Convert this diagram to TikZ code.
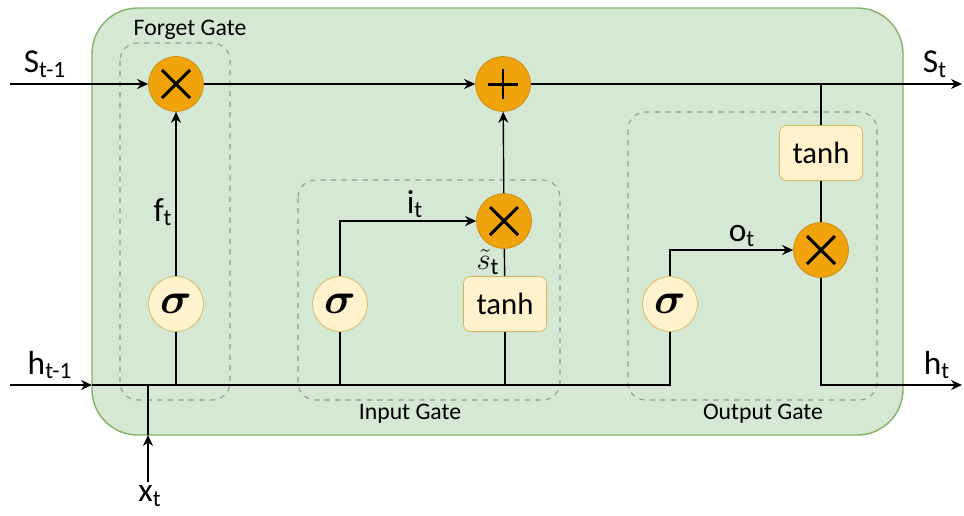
\documentclass[tikz,border=0pt]{standalone}
\usepackage{fontspec}
\setmainfont{Carlito}
\usepackage{amsmath}
\usepackage{tikz}
\usetikzlibrary{arrows.meta,positioning,calc}
\definecolor{cellgreen}{HTML}{D5E8D4}
\definecolor{celledge}{HTML}{82B366}
\definecolor{opfill}{HTML}{F0A30A}
\definecolor{opedge}{HTML}{C98A14}
\definecolor{actfill}{HTML}{FFF2CC}
\definecolor{actedge}{HTML}{D6B656}
\newcommand{\lsub}[2]{#1\textsubscript{#2}}

\begin{document}
\begin{tikzpicture}[
  x=0.02cm, y=-0.02cm,
  font=\fontsize{19}{21}\selectfont,
  wire/.style={line width=0.8pt},
  arr/.style={wire, -{Stealth[length=2.2mm,width=2mm]}},
  opnode/.style={circle, draw=opedge, fill=opfill, minimum size=1.1cm, inner sep=0pt},
  signode/.style={circle, draw=actedge, fill=actfill, minimum size=1.1cm, inner sep=0pt,
    font=\fontsize{26}{26}\selectfont},
  tanhbox/.style={draw=actedge, fill=actfill, rounded corners=4pt, minimum width=1.66cm,
    minimum height=1.1cm, inner sep=0pt, font=\fontsize{17.5}{20}\selectfont},
  gatebox/.style={draw=gray!80, dashed, rounded corners=10pt, line width=0.6pt},
  gatelabel/.style={font=\fontsize{13.5}{15}\selectfont},
  times/.style={path picture={
    \draw[black, line width=1.7pt] ($(path picture bounding box.center)+(-14,-14)$) -- ($(path picture bounding box.center)+(14,14)$);
    \draw[black, line width=1.7pt] ($(path picture bounding box.center)+(-14,14)$) -- ($(path picture bounding box.center)+(14,-14)$);}},
  plus/.style={path picture={
    \draw[black, line width=1.7pt] ($(path picture bounding box.center)+(-15,0)$) -- ($(path picture bounding box.center)+(15,0)$);
    \draw[black, line width=1.7pt] ($(path picture bounding box.center)+(0,-15)$) -- ($(path picture bounding box.center)+(0,15)$);}},
]
\useasboundingbox (0,0) rectangle (964,515);
% cell
\draw[draw=celledge, fill=cellgreen, line width=0.8pt, rounded corners=26pt] (92,8) rectangle (903,435);
% gates
\draw[gatebox] (120,43) rectangle (230,400);
\draw[gatebox] (298,180) rectangle (560,400);
\draw[gatebox] (628,112) rectangle (877,400);
\node[gatelabel] (fgate) at (190,30) {Forget Gate};
\node[gatelabel] (igate) at (410,414) {Input Gate};
\node[gatelabel] (ogate) at (763,414) {Output Gate};

% operations
\node[opnode, times] (mulF) at (176,84) {};
\node[opnode, plus] (add) at (503,84) {};
\node[opnode, times] (mulI) at (504,221) {};
\node[opnode, times] (mulO) at (821,250) {};
\node[signode] (sigF) at (176,304) {$\boldsymbol{\sigma}$};
\node[signode] (sigI) at (340,304) {$\boldsymbol{\sigma}$};
\node[signode] (sigO) at (670,304) {$\boldsymbol{\sigma}$};
\node[tanhbox] (tanhI) at (505,304) {tanh};
\node[tanhbox] (tanhO) at (821,153) {tanh};

% ends
\coordinate (sIn) at (10,84);
\coordinate (sOut) at (962,84);
\coordinate (sTap) at (821,84);
\coordinate (hIn) at (10,385);
\coordinate (hEdge) at (92,385);
\coordinate (hOut) at (962,385);
\coordinate (xIn) at (148,482);
\coordinate (xEdge) at (148,435);

% cell state
\draw[arr] (sIn) -- (mulF);
\draw[arr] (mulF) -- (add);
\draw[arr] (add) -- (sOut);
\draw[wire] (sTap) -- (tanhO);
\draw[wire] (tanhO) -- (mulO);

% hidden state and input
\draw[arr] (hIn) -- (hEdge);
\draw[wire] (hEdge) -| (sigO);
\draw[arr] (xIn) -- (xEdge);
\draw[wire] (xEdge) -- (xEdge |- hEdge);
\draw[wire] (sigF) -- (sigF |- hEdge);
\draw[wire] (sigI) -- (sigI |- hEdge);
\draw[wire] (tanhI) -- (tanhI |- hEdge);

% gate signals
\draw[arr] (sigF) -- (mulF);
\draw[arr] (sigI) |- (mulI);
\draw[wire] (tanhI) -- (mulI);
\draw[arr] (mulI) -- (add);
\draw[arr] (sigO) |- (mulO);
\draw[arr] (mulO) |- (hOut);

% labels
\node (lsIn) at (45,64) {\lsub{S}{t-1}};
\node (lhIn) at (50,365) {\lsub{h}{t-1}};
\node (lxIn) at (150,496) {\lsub{x}{t}};
\node (lsOut) at (935,64) {\lsub{S}{t}};
\node (lhOut) at (937,365) {\lsub{h}{t}};
\node (lf) at (163,212) {\lsub{f}{t}};
\node (li) at (415,204) {\lsub{i}{t}};
\node (lst) at (488,262) {$\tilde{s}$\textsubscript{t}};
\node (lo) at (742,236) {\lsub{o}{t}};
\end{tikzpicture}
\end{document}
